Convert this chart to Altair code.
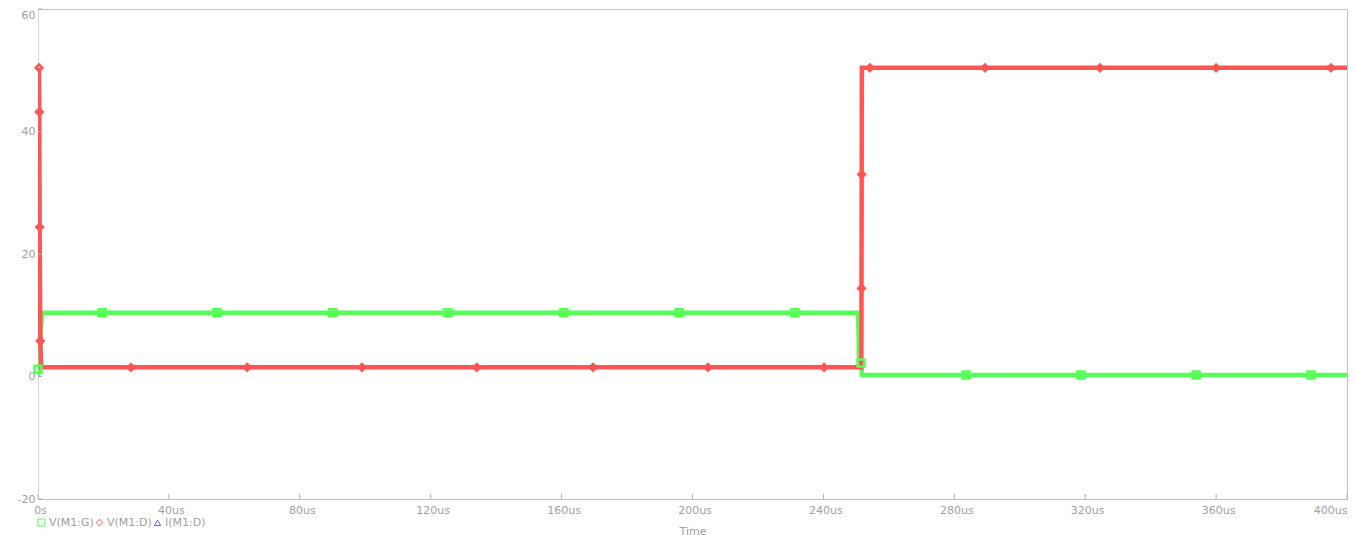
import altair as alt
import pandas as pd

RED = "#ff5555"
GREEN = "#55ff55"
PURPLE = "#7b4dff"
GRAY = "#a0a0a0"

series_names = ["V(M1:G)", "V(M1:D)", "I(M1:D)"]

# V(M1:G) trace (time in us, volts)
g_t = [0.0, 0.2, 1.2, 250.6, 250.9, 251.5, 251.8, 400.0]
g_v = [0.0, 1.2, 10.4, 10.4, 3.0, 2.2, 0.25, 0.25]
# V(M1:D) trace
d_t = [0.3, 0.4, 0.5, 0.7, 1.0, 251.6, 251.65, 251.7, 251.75, 400.0]
d_v = [50.4, 43.2, 24.4, 5.8, 1.5, 1.5, 14.4, 33.0, 50.4, 50.4]

# marker points
gm_t = [0.0, 19.6, 54.7, 90.1, 125.3, 160.7, 195.9, 231.3, 251.5, 283.6, 318.7, 353.9, 389.0]
gm_v = [1.2, 10.4, 10.4, 10.4, 10.4, 10.4, 10.4, 10.4, 2.2, 0.25, 0.25, 0.25, 0.25]
dm_t = [0.3, 0.4, 0.5, 0.7, 28.4, 63.9, 99.0, 134.1, 169.6, 204.7, 240.2,
        251.65, 251.7, 254.2, 289.4, 324.5, 360.0, 395.1]
dm_v = [50.4, 43.2, 24.4, 5.8, 1.5, 1.5, 1.5, 1.5, 1.5, 1.5, 1.5,
        14.4, 33.0, 50.4, 50.4, 50.4, 50.4, 50.4]

x_ticks = [0, 40, 80, 120, 160, 200, 240, 280, 320, 360, 400]
y_ticks = [-20, 0, 20, 40, 60]

W, H = 1309, 490

g_df = pd.DataFrame({"t": g_t, "v": g_v})
d_df = pd.DataFrame({"t": d_t, "v": d_v})
m_df = pd.DataFrame({
    "t": gm_t + dm_t,
    "v": gm_v + dm_v,
    "series": [series_names[0]] * len(gm_t) + [series_names[1]] * len(dm_t),
})
xt_df = pd.DataFrame({"t": x_ticks})
yt_df = pd.DataFrame({"v": y_ticks})

xscale = alt.Scale(domain=[0, 400], nice=False, zero=False)
yscale = alt.Scale(domain=[-20, 60], nice=False, zero=False)

xaxis = alt.Axis(
    values=x_ticks,
    labelExpr="datum.value == 0 ? '0s' : datum.value + 'us'",
    ticks=False, grid=False, domainColor="#c0c0c0",
    labelColor=GRAY, labelFontSize=11, labelPadding=5, labelFlush=False,
    labelAlign={"condition": {"test": "datum.value >= 400", "value": "right"}, "value": "center"},
    labelOffset={"condition": {"test": "datum.value >= 400", "value": 0}, "value": 2},
    title="Time", titleColor=GRAY, titleFontSize=11, titleFontWeight="normal",
    titlePadding=10,
)
yaxis = alt.Axis(
    values=y_ticks, ticks=False, grid=False, domainColor="#d8d8d8",
    labelExpr="'' + datum.value",
    labelColor=GRAY, labelFontSize=11, labelPadding=3, title=None,
    labelOffset={"condition": {"test": "datum.value >= 60", "value": 6}, "value": 0},
    minExtent=30, maxExtent=30,
)

x_enc = alt.X("t:Q", scale=xscale, axis=xaxis)
y_enc = alt.Y("v:Q", scale=yscale, axis=yaxis)

g_line = alt.Chart(g_df).mark_line(color=GREEN, strokeWidth=4.5, strokeJoin="miter", clip=True).encode(
    x=x_enc, y=y_enc)
d_line = alt.Chart(d_df).mark_line(color=RED, strokeWidth=4.5, strokeJoin="miter", clip=True).encode(
    x=alt.X("t:Q", scale=xscale), y=alt.Y("v:Q", scale=yscale))

leg = alt.Legend(orient="none", legendX=-2, legendY=508, direction="horizontal",
                 title=None, labelColor=GRAY, labelFontSize=11,
                 symbolSize=30, symbolStrokeWidth=1, columnPadding=0,
                 labelOffset=2, symbolOffset=0)

markers = alt.Chart(m_df).mark_point(filled=False, strokeWidth=2.5, opacity=1).encode(
    x=alt.X("t:Q", scale=xscale),
    y=alt.Y("v:Q", scale=yscale),
    color=alt.Color("series:N", scale=alt.Scale(domain=series_names, range=[GREEN, RED, PURPLE]),
                    legend=leg),
    shape=alt.Shape("series:N", scale=alt.Scale(domain=series_names,
                                                range=["square", "diamond", "triangle-up"]),
                    legend=leg),
    size=alt.Size("series:N", scale=alt.Scale(domain=series_names, range=[49, 40, 40]), legend=None),
)

x_tick_marks = alt.Chart(xt_df).mark_rule(color="#b0b0b0", strokeWidth=1).encode(
    x=alt.X("t:Q", scale=xscale), y=alt.value(H), y2=alt.value(H - 5))
y_tick_marks = alt.Chart(yt_df).mark_rule(color="#b0b0b0", strokeWidth=1).encode(
    y=alt.Y("v:Q", scale=yscale), x=alt.value(0), x2=alt.value(4))

chart = alt.layer(g_line, d_line, x_tick_marks, y_tick_marks, markers).properties(
    width=W, height=H,
    padding={"left": 0, "top": 0, "right": 0, "bottom": 0},
).configure(font="DejaVu Sans").configure_view(stroke="#c0c0c0", strokeWidth=1)

chart.save("out.html", embed_options={"renderer": "svg", "actions": False})
